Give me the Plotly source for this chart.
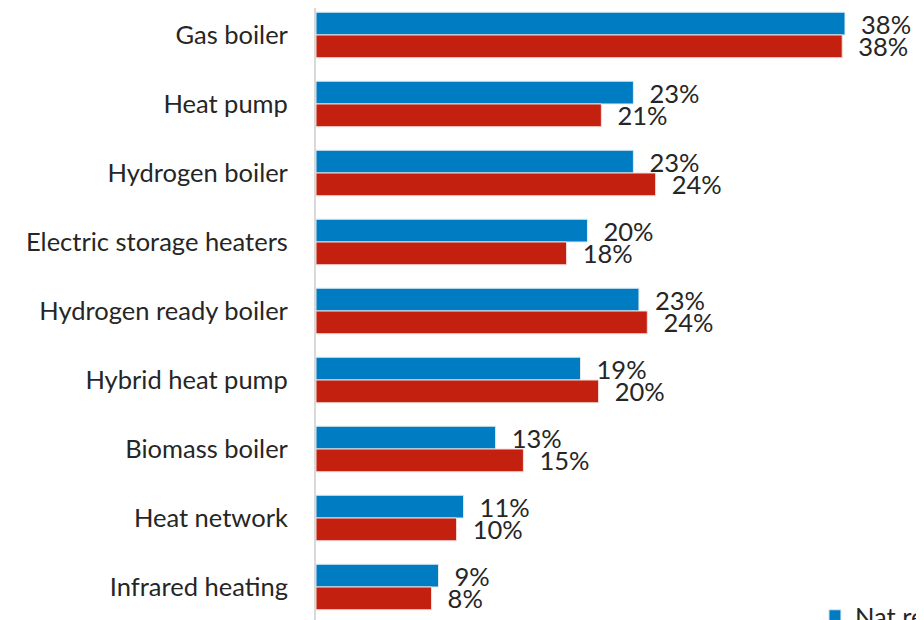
import plotly.graph_objects as go

categories = ["Gas boiler", "Heat pump", "Hydrogen boiler", "Electric storage heaters",
              "Hydrogen ready boiler", "Hybrid heat pump", "Biomass boiler",
              "Heat network", "Infrared heating"]
nat_rep = [38.0, 22.8, 22.8, 19.5, 23.2, 19.0, 12.9, 10.6, 8.8]
other = [37.8, 20.5, 24.4, 18.0, 23.8, 20.3, 14.9, 10.1, 8.3]
nat_rep_labels = ["38%", "23%", "23%", "20%", "23%", "19%", "13%", "11%", "9%"]
other_labels = ["38%", "21%", "24%", "18%", "24%", "20%", "15%", "10%", "8%"]

BLUE = "#007CC3"
RED = "#C4200F"
FONT = "Lato"
TXT = "#262626"
FS = 25.5

fig = go.Figure()
fig.add_trace(go.Bar(
    y=categories, x=nat_rep, orientation="h", name="Nat rep",
    marker=dict(color=BLUE, line=dict(color="#dfe9f2", width=1)),
    text=["  " + t for t in nat_rep_labels], textposition="outside",
    constraintext="none",
    textfont=dict(size=FS, color=TXT, family=FONT), cliponaxis=False,
))
fig.add_trace(go.Bar(
    y=categories, x=other, orientation="h", name="Other",
    marker=dict(color=RED, line=dict(color="#f2dfdc", width=1)),
    text=["  " + t for t in other_labels], textposition="outside",
    constraintext="none",
    textfont=dict(size=FS, color=TXT, family=FONT), cliponaxis=False,
))

fig.update_layout(
    width=924, height=620,
    margin=dict(l=308, r=0, t=0, b=0, autoexpand=False),
    barmode="group", bargap=0.34, bargroupgap=0,
    plot_bgcolor="white", paper_bgcolor="white",
    font=dict(family=FONT, size=FS, color=TXT),
    showlegend=True,
    legend=dict(orientation="h", x=0.81, y=0.057, xanchor="left", yanchor="top",
                font=dict(size=FS, family=FONT, color=TXT), bgcolor="rgba(0,0,0,0)"),
)
fig.update_xaxes(range=[0, 44.25], showticklabels=False, showgrid=False,
                 zeroline=False, showline=False)
fig.update_yaxes(range=[8.594, -0.391], showline=True, linecolor="#d9d9d9",
                 linewidth=2, ticks="", ticklabelstandoff=21,
                 tickfont=dict(size=FS, family=FONT, color=TXT))

fig.write_html("out.html")
